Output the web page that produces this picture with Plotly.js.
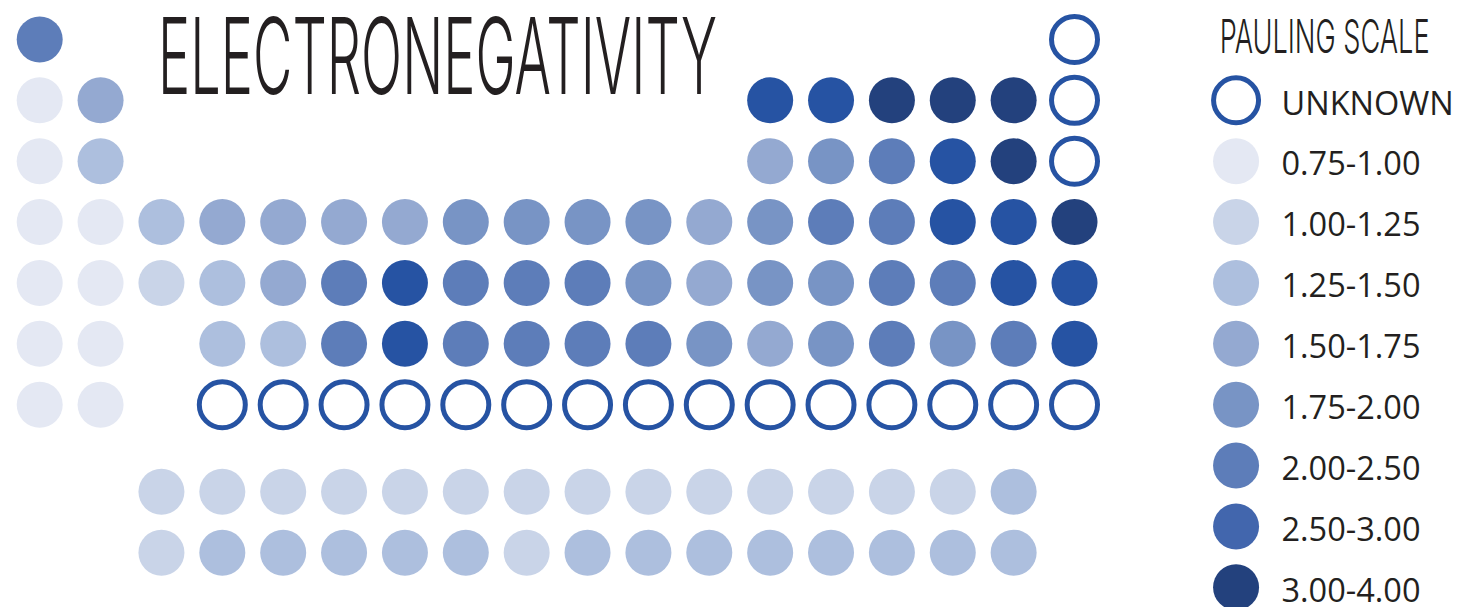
<!DOCTYPE html>
<html>
<head>
<meta charset="utf-8">
<script src="https://cdn.plot.ly/plotly-3.0.1.min.js"></script>
<style>
  html, body { margin: 0; padding: 0; background: #ffffff; }
  #chart { width: 1458px; height: 607px; }
</style>
</head>
<body>
<div id="chart"></div>
<script>
// ---- data: element symbol, table column (group), table row, Pauling-scale bin ----
const symbols = [
  'H','He',
  'Li','Be','B','C','N','O','F','Ne',
  'Na','Mg','Al','Si','P','S','Cl','Ar',
  'K','Ca','Sc','Ti','V','Cr','Mn','Fe','Co','Ni','Cu','Zn','Ga','Ge','As','Se','Br','Kr',
  'Rb','Sr','Y','Zr','Nb','Mo','Tc','Ru','Rh','Pd','Ag','Cd','In','Sn','Sb','Te','I','Xe',
  'Cs','Ba','Hf','Ta','W','Re','Os','Ir','Pt','Au','Hg','Tl','Pb','Bi','Po','At','Rn',
  'Fr','Ra','Rf','Db','Sg','Bh','Hs','Mt','Ds','Rg','Cn','Nh','Fl','Mc','Lv','Ts','Og',
  'La','Ce','Pr','Nd','Pm','Sm','Eu','Gd','Tb','Dy','Ho','Er','Tm','Yb','Lu',
  'Ac','Th','Pa','U','Np','Pu','Am','Cm','Bk','Cf','Es','Fm','Md','No','Lr'
];
const groups = [
  1,18,
  1,2,13,14,15,16,17,18,
  1,2,13,14,15,16,17,18,
  1,2,3,4,5,6,7,8,9,10,11,12,13,14,15,16,17,18,
  1,2,3,4,5,6,7,8,9,10,11,12,13,14,15,16,17,18,
  1,2,4,5,6,7,8,9,10,11,12,13,14,15,16,17,18,
  1,2,4,5,6,7,8,9,10,11,12,13,14,15,16,17,18,
  3,4,5,6,7,8,9,10,11,12,13,14,15,16,17,
  3,4,5,6,7,8,9,10,11,12,13,14,15,16,17
];
const tableRows = [
  1,1,
  2,2,2,2,2,2,2,2,
  3,3,3,3,3,3,3,3,
  4,4,4,4,4,4,4,4,4,4,4,4,4,4,4,4,4,4,
  5,5,5,5,5,5,5,5,5,5,5,5,5,5,5,5,5,5,
  6,6,6,6,6,6,6,6,6,6,6,6,6,6,6,6,6,
  7,7,7,7,7,7,7,7,7,7,7,7,7,7,7,7,7,
  8.43,8.43,8.43,8.43,8.43,8.43,8.43,8.43,8.43,8.43,8.43,8.43,8.43,8.43,8.43,
  9.43,9.43,9.43,9.43,9.43,9.43,9.43,9.43,9.43,9.43,9.43,9.43,9.43,9.43,9.43
];
// 0 = unknown, 1..8 = index into binLabels
const bins = [
  6,0,
  1,4,7,7,8,8,8,0,
  1,3,4,5,6,7,8,0,
  1,1,3,4,4,4,4,5,5,5,5,4,5,6,6,7,7,8,
  1,1,2,3,4,6,7,6,6,6,5,4,5,5,6,6,7,7,
  1,1,3,3,6,7,6,6,6,6,5,4,5,6,5,6,7,
  1,1,0,0,0,0,0,0,0,0,0,0,0,0,0,0,0,
  2,2,2,2,2,2,2,2,2,2,2,2,2,2,3,
  2,3,3,3,3,3,2,3,3,3,3,3,3,3,3
];
const binLabels = ['UNKNOWN','0.75-1.00','1.00-1.25','1.25-1.50','1.50-1.75','1.75-2.00','2.00-2.50','2.50-3.00','3.00-4.00'];
const binColors = ['#ffffff','#e4e8f3','#c9d4e8','#adbfde','#94a9d1','#7894c5','#5d7db9','#2653a3','#23417d'];
const legendColors = ['#ffffff','#e4e8f3','#c9d4e8','#adbfde','#94a9d1','#7894c5','#5d7db9','#4266ad','#23417d'];
const ringColor = '#2653a3';
const textColor = '#231f20';

// ---- build traces ----
const known = {x: [], y: [], c: [], t: []};
const unknown = {x: [], y: [], t: []};
symbols.forEach((s, i) => {
  if (bins[i] === 0) { unknown.x.push(groups[i]); unknown.y.push(tableRows[i]); unknown.t.push(s); }
  else { known.x.push(groups[i]); known.y.push(tableRows[i]); known.c.push(binColors[bins[i]]); known.t.push(s); }
});

const legendCol = 20.654;
const legendTextCol = 21.40;
const legendY = binLabels.map((_, i) => 2 + i);
const legendTextY = legendY.map(v => v + 0.1);

const traces = [
  {
    type: 'scatter', mode: 'markers', x: known.x, y: known.y, text: known.t,
    marker: {symbol: 'circle', size: 46, opacity: 1, color: known.c, line: {width: 0}},
    hoverinfo: 'text', showlegend: false
  },
  {
    type: 'scatter', mode: 'markers', x: unknown.x, y: unknown.y, text: unknown.t,
    marker: {symbol: 'circle', size: 46, opacity: 1, color: '#ffffff', line: {width: 5, color: ringColor}},
    hoverinfo: 'text', showlegend: false
  },
  {
    type: 'scatter', mode: 'markers', x: binLabels.map(() => legendCol), y: legendY,
    marker: {symbol: 'circle', size: binLabels.map((_, i) => i === 0 ? 45 : 46), opacity: 1,
             color: legendColors,
             line: {width: binLabels.map((_, i) => i === 0 ? 5 : 0), color: ringColor}},
    hoverinfo: 'skip', showlegend: false
  },
  {
    type: 'scatter', mode: 'text', x: binLabels.map(() => legendTextCol), y: legendTextY,
    text: binLabels, textposition: 'middle right',
    textfont: {family: 'Open Sans, sans-serif', size: 32.5, color: textColor},
    hoverinfo: 'skip', showlegend: false, cliponaxis: false
  }
];

const layout = {
  width: 1458, height: 607,
  margin: {l: 0, r: 0, t: 0, b: 0, pad: 0},
  paper_bgcolor: '#ffffff', plot_bgcolor: '#ffffff',
  showlegend: false,
  xaxis: {range: [0.3478, 24.300], visible: false, fixedrange: true},
  yaxis: {range: [10.323, 0.3511], visible: false, fixedrange: true},
  annotations: [
    {
      text: 'ELECTRONEGATIVITY', xref: 'paper', yref: 'paper',
      x: 437.5 / 1458, y: 1 - 55.5 / 607, xanchor: 'center', yanchor: 'middle',
      showarrow: false,
      font: {family: 'Inter, Liberation Sans, sans-serif', size: 106, weight: 300, color: textColor}
    },
    {
      text: 'PAULING SCALE', xref: 'paper', yref: 'paper',
      x: 1324.5 / 1458, y: 1 - 35.5 / 607, xanchor: 'center', yanchor: 'middle',
      showarrow: false,
      font: {family: 'Inter, Liberation Sans, sans-serif', size: 47, weight: 300, color: textColor}
    }
  ]
};

// target rendered widths of the condensed title texts (px)
const titleWidths = {'ELECTRONEGATIVITY': 559, 'PAULING SCALE': 210};

Plotly.newPlot('chart', traces, layout, {displayModeBar: false, staticPlot: true}).then(() => {
  document.querySelectorAll('g.annotation').forEach(g => {
    const t = g.querySelector('.annotation-text');
    if (!t) return;
    const w = titleWidths[t.textContent];
    if (!w) return;
    const tb = t.getBBox();
    const gb = g.getBBox();
    const cx = gb.x + gb.width / 2;
    const sx = w / tb.width;
    g.setAttribute('transform', `translate(${cx},0) scale(${sx},1) translate(${-cx},0)`);
  });
});
</script>
</body>
</html>
